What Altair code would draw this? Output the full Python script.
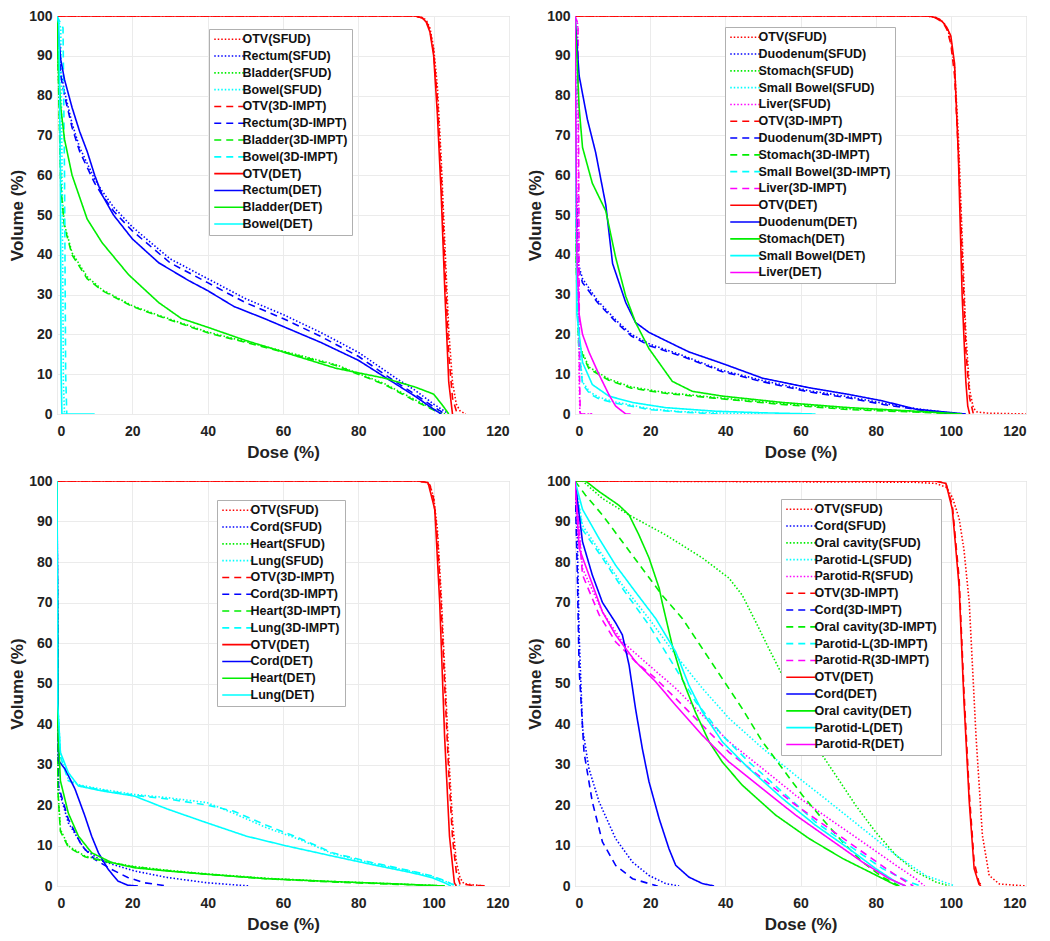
import altair as alt
import pandas as pd

# ---------------- Panel 1 (pelvis) ----------------
P1_ORGANS = ["OTV", "Rectum", "Bladder", "Bowel"]
P1_OTV_SFUD_D = [0, 95, 97, 98, 99, 100, 101, 102, 103, 104, 105, 106, 107, 108.5]
P1_OTV_SFUD_V = [100, 100, 99.6, 99, 97, 92, 82, 64, 42, 21, 8, 2.5, 0.8, 0]
P1_RECTUM_SFUD_D = [0, 1, 2, 4, 6, 8, 10, 12, 15, 20, 30, 40, 50, 60, 70, 80, 90, 95, 100, 104]
P1_RECTUM_SFUD_V = [100, 86, 81, 73, 67, 63, 59, 56, 52, 47, 39, 34, 29, 25, 20.5, 15.5, 9, 6, 2.5, 0]
P1_BLADDER_SFUD_D = [0, 0.5, 1, 2, 4, 8, 12, 20, 27, 40, 60, 74, 87, 95, 100, 103]
P1_BLADDER_SFUD_V = [100, 80, 58, 47.5, 40.5, 34.5, 31.2, 27.2, 24.8, 20.6, 15.8, 12.4, 7.6, 3.6, 1.2, 0]
P1_BOWEL_SFUD_D = [0, 1.0, 1.4, 1.7, 2.0]
P1_BOWEL_SFUD_V = [100, 97, 55, 8, 0]
P1_OTV_IMPT_D = [0, 95, 97, 98, 99, 100, 101, 102, 103, 104, 105, 106, 107]
P1_OTV_IMPT_V = [100, 100, 99.5, 98.8, 96.5, 91, 79, 60, 37, 15, 4, 0.8, 0]
P1_RECTUM_IMPT_D = [0, 1, 2, 4, 6, 8, 10, 12, 15, 20, 30, 40, 50, 60, 70, 80, 90, 95, 100, 103]
P1_RECTUM_IMPT_V = [100, 85, 80, 72, 66, 62, 58, 55, 51, 46, 38, 33, 28, 24, 19.5, 14.5, 8, 5, 1.8, 0]
P1_BLADDER_IMPT_D = [0, 0.5, 1, 2, 4, 8, 12, 20, 27, 40, 60, 74, 87, 95, 100, 102]
P1_BLADDER_IMPT_V = [100, 79, 57, 47, 40, 34, 31, 27, 24.6, 20.4, 15.6, 12.2, 7.4, 3.3, 1, 0]
P1_BOWEL_IMPT_D = [0, 1.6, 2.0, 2.3, 2.6]
P1_BOWEL_IMPT_V = [100, 97, 60, 10, 0]
P1_OTV_DET_D = [0, 95, 97, 98, 99, 100, 101, 102, 103, 104, 105]
P1_OTV_DET_V = [100, 100, 99.5, 98.5, 96, 90, 75, 55, 30, 8, 0]
P1_RECTUM_DET_D = [0, 1, 2, 4, 6, 8, 10, 12, 15, 20, 27, 35, 40, 47, 55, 60, 70, 80, 90, 95, 100, 102]
P1_RECTUM_DET_V = [100, 89, 84, 77, 71, 66, 60, 55, 50, 44, 38, 33.5, 31, 27, 24, 22, 18, 13.5, 7.5, 4.5, 1.2, 0]
P1_BLADDER_DET_D = [0, 0.3, 1, 2, 4, 8, 12, 19, 27, 33, 40, 50, 60, 74, 87, 95, 100, 102.5, 104]
P1_BLADDER_DET_V = [100, 88, 77, 69, 60, 49, 43, 35, 28, 24, 21.8, 18.5, 15.6, 11.5, 9, 6.8, 5, 2, 0]
P1_BOWEL_DET_D = [0, 0.5, 0.9, 1.1, 1.3, 10]
P1_BOWEL_DET_V = [100, 98, 60, 10, 0, 0]

# ---------------- Panel 2 (abdomen) ----------------
P2_ORGANS = ["OTV", "Duodenum", "Stomach", "Small Bowel", "Liver"]
P2_OTV_SFUD_D = [0, 94, 96, 98, 99, 100, 101, 102, 103, 104, 105, 106, 107, 110, 120]
P2_OTV_SFUD_V = [100, 100, 99.6, 98.5, 97, 94, 87, 70, 45, 20, 6, 1.5, 0.5, 0.2, 0]
P2_DUO_SFUD_D = [0, 0.3, 0.8, 2, 6, 11, 15, 20, 29, 39, 50, 62, 73, 82, 91, 97, 101]
P2_DUO_SFUD_V = [100, 60, 38, 34, 28.5, 23.5, 20, 17.5, 14.6, 11, 8.4, 5.9, 4.3, 2.7, 1.3, 0.6, 0]
P2_STO_SFUD_D = [0, 0.3, 1, 3.7, 9, 15, 24, 37, 55, 73, 90, 100, 103]
P2_STO_SFUD_V = [100, 40, 17.5, 11.8, 8.8, 6.8, 5.4, 4.2, 2.6, 1.3, 0.6, 0.2, 0]
P2_SB_SFUD_D = [0, 0.3, 1, 2, 4, 6.4, 10.8, 20, 28, 40, 50]
P2_SB_SFUD_V = [100, 50, 18, 8, 5.5, 4.2, 3, 1.3, 0.6, 0.2, 0]
P2_LIV_SFUD_D = [0, 0.7, 0.9, 1.1, 1.3, 4.6]
P2_LIV_SFUD_V = [100, 98, 60, 10, 0, 0]
P2_OTV_IMPT_D = [0, 94, 96, 98, 99, 100, 101, 102, 103, 104, 105, 106]
P2_OTV_IMPT_V = [100, 100, 99.5, 98.3, 96.5, 93, 85, 66, 40, 16, 4, 0]
P2_DUO_IMPT_D = [0, 0.3, 0.8, 2, 6, 11, 15, 20, 29, 39, 50, 62, 73, 82, 91, 97, 100]
P2_DUO_IMPT_V = [100, 58, 37, 33, 28, 23, 19.6, 17.1, 14.3, 10.7, 8.1, 5.6, 4.0, 2.4, 1.1, 0.4, 0]
P2_STO_IMPT_D = [0, 0.3, 1, 3.7, 9, 15, 24, 37, 55, 73, 90, 100, 102]
P2_STO_IMPT_V = [100, 38, 17, 11.4, 8.5, 6.5, 5.2, 4, 2.4, 1.1, 0.5, 0.1, 0]
P2_SB_IMPT_D = [0, 0.3, 1, 2, 4, 6.4, 10.8, 20, 28, 38]
P2_SB_IMPT_V = [100, 48, 17, 7.5, 5, 3.8, 2.7, 1.1, 0.5, 0]
P2_LIV_IMPT_D = [0, 0.8, 1.0, 1.2, 1.4, 4.5]
P2_LIV_IMPT_V = [100, 98, 60, 10, 0, 0]
P2_OTV_DET_D = [0, 94, 96, 97, 98, 99, 100, 101, 102, 103, 104, 104.5, 105]
P2_OTV_DET_V = [100, 100, 99.6, 99.2, 98.3, 97, 95, 88, 65, 30, 8, 2, 0]
P2_DUO_DET_D = [0, 1.1, 3.3, 5.5, 8.2, 10, 13.5, 16.1, 19.7, 26.8, 30.3, 39.2, 49.9, 62.3, 72.9, 81.8, 90.7, 99.6, 104]
P2_DUO_DET_V = [100, 85, 74, 65.7, 52.5, 37.8, 28, 23, 20.5, 17.2, 15.6, 12.7, 9, 6.6, 4.9, 3.3, 1.2, 0.4, 0]
P2_STO_DET_D = [0, 1.1, 2, 4.6, 8.2, 10.8, 13.5, 16.1, 19.7, 25.9, 31.2, 39.2, 55.2, 72.9, 90.7, 103]
P2_STO_DET_V = [100, 77, 67, 58, 51, 39.4, 29.6, 23, 16.4, 8.2, 5.7, 4.5, 2.9, 1.6, 0.7, 0]
P2_SB_DET_D = [0, 0.5, 2, 4.6, 9, 15.3, 24.1, 37.4, 50, 64]
P2_SB_DET_V = [100, 25, 13, 7.4, 4.5, 2.9, 1.6, 0.7, 0.3, 0]
P2_LIV_DET_D = [0, 0.5, 1.1, 2, 3.7, 6.4, 9, 10.8, 13.5, 14.8]
P2_LIV_DET_V = [100, 40, 25, 20, 15.6, 9.9, 4.9, 2, 0, 0]

# ---------------- Panel 3 (thorax) ----------------
P3_ORGANS = ["OTV", "Cord", "Heart", "Lung"]
P3_OTV_SFUD_D = [0, 96, 98, 99, 100, 101, 102, 103, 104, 105, 106, 107, 108, 110, 114]
P3_OTV_SFUD_V = [100, 100, 99.6, 99, 96, 88, 72, 52, 32, 16, 6, 2, 0.6, 0.3, 0]
P3_CORD_SFUD_D = [0, 0.2, 0.4, 3, 7.4, 11.8, 20.6, 29.3, 39.8, 51.2]
P3_CORD_SFUD_V = [100, 50, 24, 15.6, 9, 6.2, 3.7, 2.1, 0.8, 0]
P3_HEART_SFUD_D = [0, 0.2, 0.9, 3, 7.4, 14.5, 20.6, 29.3, 39.8, 55.6, 73.1, 90.6, 103]
P3_HEART_SFUD_V = [100, 25, 14, 9.9, 7.4, 5.8, 4.8, 3.9, 3, 1.9, 1.1, 0.5, 0]
P3_LUNG_SFUD_D = [0, 0.2, 0.9, 3, 5.7, 11.8, 20.6, 29.3, 39.8, 46.8, 55.6, 64.4, 73.1, 83.6, 94.1, 99.4, 103, 105, 107]
P3_LUNG_SFUD_V = [100, 45, 33, 26.3, 25, 23.9, 22.6, 21.8, 20.6, 18, 14.4, 11.5, 8, 5.6, 3.6, 2.4, 1.2, 0.4, 0]
P3_OTV_IMPT_D = [0, 96, 98, 99, 100, 101, 102, 103, 104, 105, 106, 107, 110, 114]
P3_OTV_IMPT_V = [100, 100, 99.6, 99, 95.5, 86, 69, 48, 28, 12, 3.5, 0.5, 0.2, 0]
P3_CORD_IMPT_D = [0, 0.2, 0.4, 3, 6.6, 10, 14.5, 18.8, 23.2, 29.3]
P3_CORD_IMPT_V = [100, 50, 24.7, 16.5, 9.9, 6.6, 4.1, 2.1, 0.8, 0]
P3_HEART_IMPT_D = [0, 0.2, 0.9, 3, 7.4, 14.5, 20.6, 29.3, 39.8, 55.6, 73.1, 90.6, 103]
P3_HEART_IMPT_V = [100, 24, 13.5, 9.6, 7.2, 5.7, 4.7, 3.8, 2.9, 1.8, 1.0, 0.4, 0]
P3_LUNG_IMPT_D = [0, 0.2, 0.9, 3, 5.7, 11.8, 20.6, 29.3, 39.8, 46.8, 55.6, 64.4, 73.1, 83.6, 94.1, 99.4, 103, 105, 106.5]
P3_LUNG_IMPT_V = [100, 44, 32, 26, 24.8, 23.7, 22.4, 21.5, 20, 18.5, 15, 11.8, 8.2, 5.8, 3.7, 2.5, 1.3, 0.4, 0]
P3_OTV_DET_D = [0, 96, 97, 98.5, 100.3, 101.6, 102.9, 104.2, 105.5, 106]
P3_OTV_DET_V = [100, 100, 99.9, 99.6, 93, 70, 37, 12.3, 0.8, 0]
P3_CORD_DET_D = [0, 0.2, 0.4, 2.2, 4.8, 7.4, 9.2, 11, 13.6, 16.2, 18.8, 21.5]
P3_CORD_DET_V = [100, 60, 31, 28.8, 23.9, 17.3, 12.3, 8.2, 4.1, 1.2, 0.2, 0]
P3_HEART_DET_D = [0, 0.2, 0.9, 3, 5.7, 9.2, 14.5, 20.6, 29.3, 39.8, 55.6, 73.1, 90.6, 102.9]
P3_HEART_DET_V = [100, 40, 26, 18, 12.3, 8.2, 5.8, 4.5, 3.7, 2.9, 1.8, 1.1, 0.5, 0]
P3_LUNG_DET_D = [0, 0.2, 0.9, 3, 5.7, 11.8, 20.6, 29.3, 39.8, 50.3, 60.9, 73.1, 83.6, 94.1, 99.4, 102.9, 104.6]
P3_LUNG_DET_V = [100, 45, 33, 28, 24.7, 23.5, 22.2, 19, 15.6, 12.3, 9.9, 7.4, 5.3, 3.3, 2.1, 0.8, 0]

# ---------------- Panel 4 (head & neck) ----------------
P4_ORGANS = ["OTV", "Cord", "Oral cavity", "Parotid-L", "Parotid-R"]
P4_OTV_SFUD_D = [0, 90, 96, 98.7, 100.4, 102.2, 103.5, 104.9, 106.7, 108.4, 110.2, 112.9, 120]
P4_OTV_SFUD_V = [100, 99.7, 99.4, 98.5, 96, 90.8, 83, 70, 37, 12.5, 2.6, 0.5, 0]
P4_CORD_SFUD_D = [0, 0.6, 1.1, 2, 3.7, 6.4, 10.8, 15.3, 19.7, 24.1, 27.7]
P4_CORD_SFUD_V = [100, 86.7, 62, 39, 29, 20.8, 11.7, 5.9, 2.6, 0.6, 0]
P4_ORAL_SFUD_D = [0, 2, 7.3, 14.4, 24.1, 33.9, 41, 44.5, 48.1, 51.6, 55.2, 59.6, 64, 69.4, 74.7, 80, 85.4, 90.7, 96, 99.6]
P4_ORAL_SFUD_V = [100, 100, 95.7, 91.6, 86.7, 81, 76, 71.8, 65.2, 58.6, 52, 42.2, 34.8, 27.3, 19.9, 13.3, 7.6, 3.5, 1, 0]
P4_PAROL_SFUD_D = [0, 2, 7.3, 12.6, 19.7, 26.8, 33.9, 41, 49.9, 58.7, 67.6, 76.5, 85.4, 93.3, 99.6, 101]
P4_PAROL_SFUD_V = [100, 89, 81.7, 74.3, 66, 57, 48.8, 41.4, 34, 27.3, 20.8, 14.2, 7.6, 2.6, 0.5, 0]
P4_PAROR_SFUD_D = [0, 2, 7.3, 12.6, 19.7, 26.8, 33.9, 41, 49.9, 58.7, 67.6, 76.5, 85.4, 90.7, 93]
P4_PAROR_SFUD_V = [100, 78.4, 67.7, 60.3, 54.5, 48.8, 42.2, 35.6, 29, 22.4, 16.6, 10.9, 5.1, 1.8, 0]
P4_OTV_IMPT_D = [0, 96, 98.7, 100.4, 102.2, 103.5, 104.9, 106.2, 107.5, 108.5]
P4_OTV_IMPT_V = [100, 100, 99.4, 94, 76, 48, 23, 6, 0.8, 0]
P4_CORD_IMPT_D = [0, 0.6, 1.1, 2.4, 4.6, 7.3, 10.8, 15.3, 21.5, 22]
P4_CORD_IMPT_V = [100, 78, 53.7, 33, 20.8, 10.9, 5.1, 1.8, 0.1, 0]
P4_ORAL_IMPT_D = [0, 2.8, 7.3, 12.6, 17.9, 23.2, 28.6, 33.9, 39.2, 44.5, 49.9, 55.2, 60.5, 65.8, 71.2, 76.5, 81.8, 86.3]
P4_ORAL_IMPT_V = [100, 96.5, 91.6, 85, 78.4, 71.8, 66, 58.6, 51.2, 43.8, 35.6, 29, 22.4, 16.6, 10.9, 5.9, 2.2, 0]
P4_PAROL_IMPT_D = [0, 2, 7.3, 12.6, 19.7, 26.8, 32.1, 39.2, 46.3, 55.2, 64, 72.9, 81.8, 88.9, 92]
P4_PAROL_IMPT_V = [100, 88, 81, 73.5, 64.4, 53.7, 45.5, 37.2, 30.6, 23.2, 15.8, 10, 4.3, 1, 0]
P4_PAROR_IMPT_D = [0, 2, 6.4, 10.8, 16.1, 21.5, 26.8, 33.9, 41, 49.9, 58.7, 67.6, 76.5, 85.4, 90]
P4_PAROR_IMPT_V = [100, 76.8, 67, 60.3, 55.4, 51.2, 46.3, 39.7, 33, 26.5, 20, 14.2, 8.4, 2.6, 0]
P4_OTV_DET_D = [0, 96, 98.7, 100.4, 102.2, 103.5, 104.9, 106.2, 107.5, 108]
P4_OTV_DET_V = [100, 100, 99.4, 93, 74, 45.5, 20.8, 4.3, 0.4, 0]
P4_CORD_DET_D = [0, 2, 4.6, 7.3, 10.8, 12.6, 14.4, 16.1, 17.9, 19.7, 22.4, 25, 26.8, 30.3, 33.9, 37]
P4_CORD_DET_V = [100, 85, 76.8, 70, 65, 62, 54.5, 43.8, 34, 25.7, 16.6, 9.2, 5.1, 2.2, 0.6, 0]
P4_ORAL_DET_D = [0, 2.8, 6.4, 11.7, 14.4, 17, 19.7, 22.4, 23.2, 25.9, 28.6, 32.1, 35.7, 39.2, 44.5, 53.4, 62.3, 71.2, 78.3, 84.5, 86]
P4_ORAL_DET_V = [100, 100, 97.4, 94, 91.6, 86.7, 81, 73.5, 70, 59.3, 51, 42.8, 35.6, 30.6, 24.9, 17.5, 11.7, 6.8, 3.5, 0.6, 0]
P4_PAROL_DET_D = [0, 2, 6.4, 10.8, 16.1, 21.5, 26.8, 30.3, 33.9, 39.2, 46.3, 55.2, 64, 72.9, 80, 85.4, 88]
P4_PAROL_DET_V = [100, 93, 85.8, 79.2, 72.6, 66, 57.8, 49.6, 43, 35.6, 29, 21.6, 15, 9.2, 4.3, 1, 0]
P4_PAROR_DET_D = [0, 1.1, 3.7, 7.3, 10.8, 16.1, 21.5, 26.8, 33.9, 41, 49.9, 58.7, 67.6, 76.5, 83.6, 88]
P4_PAROR_DET_V = [100, 83.4, 76.8, 67.7, 62, 55.4, 50.4, 44.6, 37.2, 30.6, 24, 17.5, 11.7, 5.9, 1.8, 0]

PALETTE = ["#ff0000", "#0000ff", "#00ee00", "#00ffff", "#ff00ff"]
METHODS = ["SFUD", "3D-IMPT", "DET"]
DASHES = {"SFUD": [1.5, 2], "3D-IMPT": [7, 5], "DET": [1, 0]}
WIDTHS = {"SFUD": 1.6, "3D-IMPT": 2, "DET": 2}

P1_CURVES = {
    "SFUD": [(P1_OTV_SFUD_D, P1_OTV_SFUD_V), (P1_RECTUM_SFUD_D, P1_RECTUM_SFUD_V),
             (P1_BLADDER_SFUD_D, P1_BLADDER_SFUD_V), (P1_BOWEL_SFUD_D, P1_BOWEL_SFUD_V)],
    "3D-IMPT": [(P1_OTV_IMPT_D, P1_OTV_IMPT_V), (P1_RECTUM_IMPT_D, P1_RECTUM_IMPT_V),
                (P1_BLADDER_IMPT_D, P1_BLADDER_IMPT_V), (P1_BOWEL_IMPT_D, P1_BOWEL_IMPT_V)],
    "DET": [(P1_OTV_DET_D, P1_OTV_DET_V), (P1_RECTUM_DET_D, P1_RECTUM_DET_V),
            (P1_BLADDER_DET_D, P1_BLADDER_DET_V), (P1_BOWEL_DET_D, P1_BOWEL_DET_V)],
}
P2_CURVES = {
    "SFUD": [(P2_OTV_SFUD_D, P2_OTV_SFUD_V), (P2_DUO_SFUD_D, P2_DUO_SFUD_V), (P2_STO_SFUD_D, P2_STO_SFUD_V),
             (P2_SB_SFUD_D, P2_SB_SFUD_V), (P2_LIV_SFUD_D, P2_LIV_SFUD_V)],
    "3D-IMPT": [(P2_OTV_IMPT_D, P2_OTV_IMPT_V), (P2_DUO_IMPT_D, P2_DUO_IMPT_V), (P2_STO_IMPT_D, P2_STO_IMPT_V),
                (P2_SB_IMPT_D, P2_SB_IMPT_V), (P2_LIV_IMPT_D, P2_LIV_IMPT_V)],
    "DET": [(P2_OTV_DET_D, P2_OTV_DET_V), (P2_DUO_DET_D, P2_DUO_DET_V), (P2_STO_DET_D, P2_STO_DET_V),
            (P2_SB_DET_D, P2_SB_DET_V), (P2_LIV_DET_D, P2_LIV_DET_V)],
}
P3_CURVES = {
    "SFUD": [(P3_OTV_SFUD_D, P3_OTV_SFUD_V), (P3_CORD_SFUD_D, P3_CORD_SFUD_V),
             (P3_HEART_SFUD_D, P3_HEART_SFUD_V), (P3_LUNG_SFUD_D, P3_LUNG_SFUD_V)],
    "3D-IMPT": [(P3_OTV_IMPT_D, P3_OTV_IMPT_V), (P3_CORD_IMPT_D, P3_CORD_IMPT_V),
                (P3_HEART_IMPT_D, P3_HEART_IMPT_V), (P3_LUNG_IMPT_D, P3_LUNG_IMPT_V)],
    "DET": [(P3_OTV_DET_D, P3_OTV_DET_V), (P3_CORD_DET_D, P3_CORD_DET_V),
            (P3_HEART_DET_D, P3_HEART_DET_V), (P3_LUNG_DET_D, P3_LUNG_DET_V)],
}
P4_CURVES = {
    "SFUD": [(P4_OTV_SFUD_D, P4_OTV_SFUD_V), (P4_CORD_SFUD_D, P4_CORD_SFUD_V), (P4_ORAL_SFUD_D, P4_ORAL_SFUD_V),
             (P4_PAROL_SFUD_D, P4_PAROL_SFUD_V), (P4_PAROR_SFUD_D, P4_PAROR_SFUD_V)],
    "3D-IMPT": [(P4_OTV_IMPT_D, P4_OTV_IMPT_V), (P4_CORD_IMPT_D, P4_CORD_IMPT_V), (P4_ORAL_IMPT_D, P4_ORAL_IMPT_V),
                (P4_PAROL_IMPT_D, P4_PAROL_IMPT_V), (P4_PAROR_IMPT_D, P4_PAROR_IMPT_V)],
    "DET": [(P4_OTV_DET_D, P4_OTV_DET_V), (P4_CORD_DET_D, P4_CORD_DET_V), (P4_ORAL_DET_D, P4_ORAL_DET_V),
            (P4_PAROL_DET_D, P4_PAROL_DET_V), (P4_PAROR_DET_D, P4_PAROR_DET_V)],
}

FONT = "Liberation Sans"


def panel(organs, curves, lx, ly, w, h):
    rows, names, cols, dashes, widths = [], [], [], [], []
    for m in METHODS:
        for k, org in enumerate(organs):
            name = f"{org}({m})"
            D, V = curves[m][k]
            for i, (d, v) in enumerate(zip(D, V)):
                rows.append({"s": name, "dose": d, "vol": v, "i": i})
            names.append(name)
            cols.append(PALETTE[k])
            dashes.append(DASHES[m])
            widths.append(WIDTHS[m])
    df = pd.DataFrame(rows)
    leg = alt.Legend(
        title=None, orient="none", legendX=lx, legendY=ly,
        symbolType="M-3,0H3", symbolSize=100, symbolOffset=10,
        symbolStrokeWidth=2, labelOffset=7,
    )
    return alt.Chart(df).mark_line(clip=True).encode(
        x=alt.X("dose:Q", scale=alt.Scale(domain=[0, 120], nice=False),
                axis=alt.Axis(values=list(range(0, 121, 20)), title="Dose (%)")),
        y=alt.Y("vol:Q", scale=alt.Scale(domain=[0, 100], nice=False),
                axis=alt.Axis(values=list(range(0, 101, 10)), title="Volume (%)")),
        color=alt.Color("s:N", scale=alt.Scale(domain=names, range=cols), legend=leg),
        strokeDash=alt.StrokeDash("s:N", scale=alt.Scale(domain=names, range=dashes), legend=leg),
        strokeWidth=alt.StrokeWidth("s:N", scale=alt.Scale(domain=names, range=widths), legend=None),
        order=alt.Order("i:Q"),
    ).properties(width=w, height=h)


p1 = panel(P1_ORGANS, P1_CURVES, 152, 13, 452, 398)
p2 = panel(P2_ORGANS, P2_CURVES, 150, 11, 451, 398)
p3 = panel(P3_ORGANS, P3_CURVES, 160, 19, 452, 405)
p4 = panel(P4_ORGANS, P4_CURVES, 206, 18, 451, 405)


def res(c):
    return c.resolve_scale(color="independent", strokeDash="independent", strokeWidth="independent").resolve_legend(
        color="independent", strokeDash="independent")


row1 = res(alt.hconcat(p1, p2, spacing=16))
row2 = res(alt.hconcat(p3, p4, spacing=16))

chart = res(alt.vconcat(row1, row2, spacing=12)).properties(
    padding={"left": 0, "top": 0, "right": 0, "bottom": 0}
).configure_view(
    stroke="#c4c4c4", strokeWidth=1
).configure_axis(
    labelFont=FONT, labelFontWeight="bold", labelFontSize=14, labelColor="#222222",
    titleFont=FONT, titleFontWeight="bold", titleFontSize=17, titleColor="#222222",
    gridColor="#ebebeb", gridWidth=1, domain=False, ticks=False,
).configure_axisX(
    labelPadding=10, titlePadding=6,
).configure_axisY(
    labelPadding=5, titlePadding=2,
).configure_legend(
    labelFont=FONT, labelFontWeight="bold", labelFontSize=12.5, labelColor="#111111",
    strokeColor="#b0b0b0", fillColor="white", padding=4, rowPadding=3.8, labelLimit=300,
)

chart.save("out.html", embed_options={"renderer": "svg", "actions": False})
